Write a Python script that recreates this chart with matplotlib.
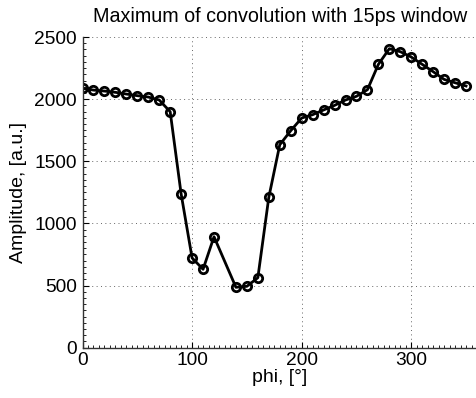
import matplotlib
matplotlib.use("Agg")
import matplotlib.pyplot as plt
import numpy as np
from matplotlib.ticker import MultipleLocator

# phi angles (130 deg point is missing in the original)
phi = [0, 10, 20, 30, 40, 50, 60, 70, 80, 90, 100, 110, 120,
       140, 150, 160, 170, 180, 190, 200, 210, 220, 230, 240, 250,
       260, 270, 280, 290, 300, 310, 320, 330, 340, 350]
amplitude = [2087, 2073, 2065, 2055, 2041, 2028, 2017, 1993, 1899, 1237,
             722, 631, 893,
             486, 494, 563, 1210, 1633, 1746, 1848, 1875, 1913, 1950,
             1993, 2023, 2076, 2280, 2406, 2382, 2339, 2280, 2221,
             2159, 2132, 2106]

x_ticks = [0, 100, 200, 300]
y_ticks = [0, 500, 1000, 1500, 2000, 2500]

plt.rcParams["font.family"] = ["Liberation Sans", "DejaVu Sans"]

fig = plt.figure(figsize=(4.77, 3.98), dpi=100)
ax = fig.add_axes([0.173, 0.1264, 0.827, 0.7806])

ax.plot(phi, amplitude, color="black", linewidth=2, marker="o",
        markersize=6, markerfacecolor="none", markeredgewidth=2)

ax.set_xlim(0, 360)
ax.set_ylim(0, 2500)
ax.set_xticks(x_ticks)
ax.set_yticks(y_ticks)
ax.xaxis.set_minor_locator(MultipleLocator(5))
ax.yaxis.set_minor_locator(MultipleLocator(50))
ax.tick_params(which="major", direction="in", length=4, labelsize=13.8,
               width=0.8)
ax.tick_params(axis="x", which="major", pad=3)
ax.tick_params(axis="y", which="major", pad=4)
ax.tick_params(which="minor", direction="in", length=2, width=0.6)

ax.grid(True, which="major", linestyle=(0, (1, 3.5)), color="#666666",
        linewidth=0.7)

for side in ["top", "right"]:
    ax.spines[side].set_visible(False)
for side in ["left", "bottom"]:
    ax.spines[side].set_linewidth(1.0)
    ax.spines[side].set_color("#333333")

ax.set_xlabel("phi, [°]", fontsize=14, labelpad=0)
ax.set_ylabel("Amplitude, [a.u.]", fontsize=14, labelpad=5)
ax.set_title("Maximum of convolution with 15ps window", fontsize=14.2, pad=11)

fig.savefig("out.png", dpi=100)
